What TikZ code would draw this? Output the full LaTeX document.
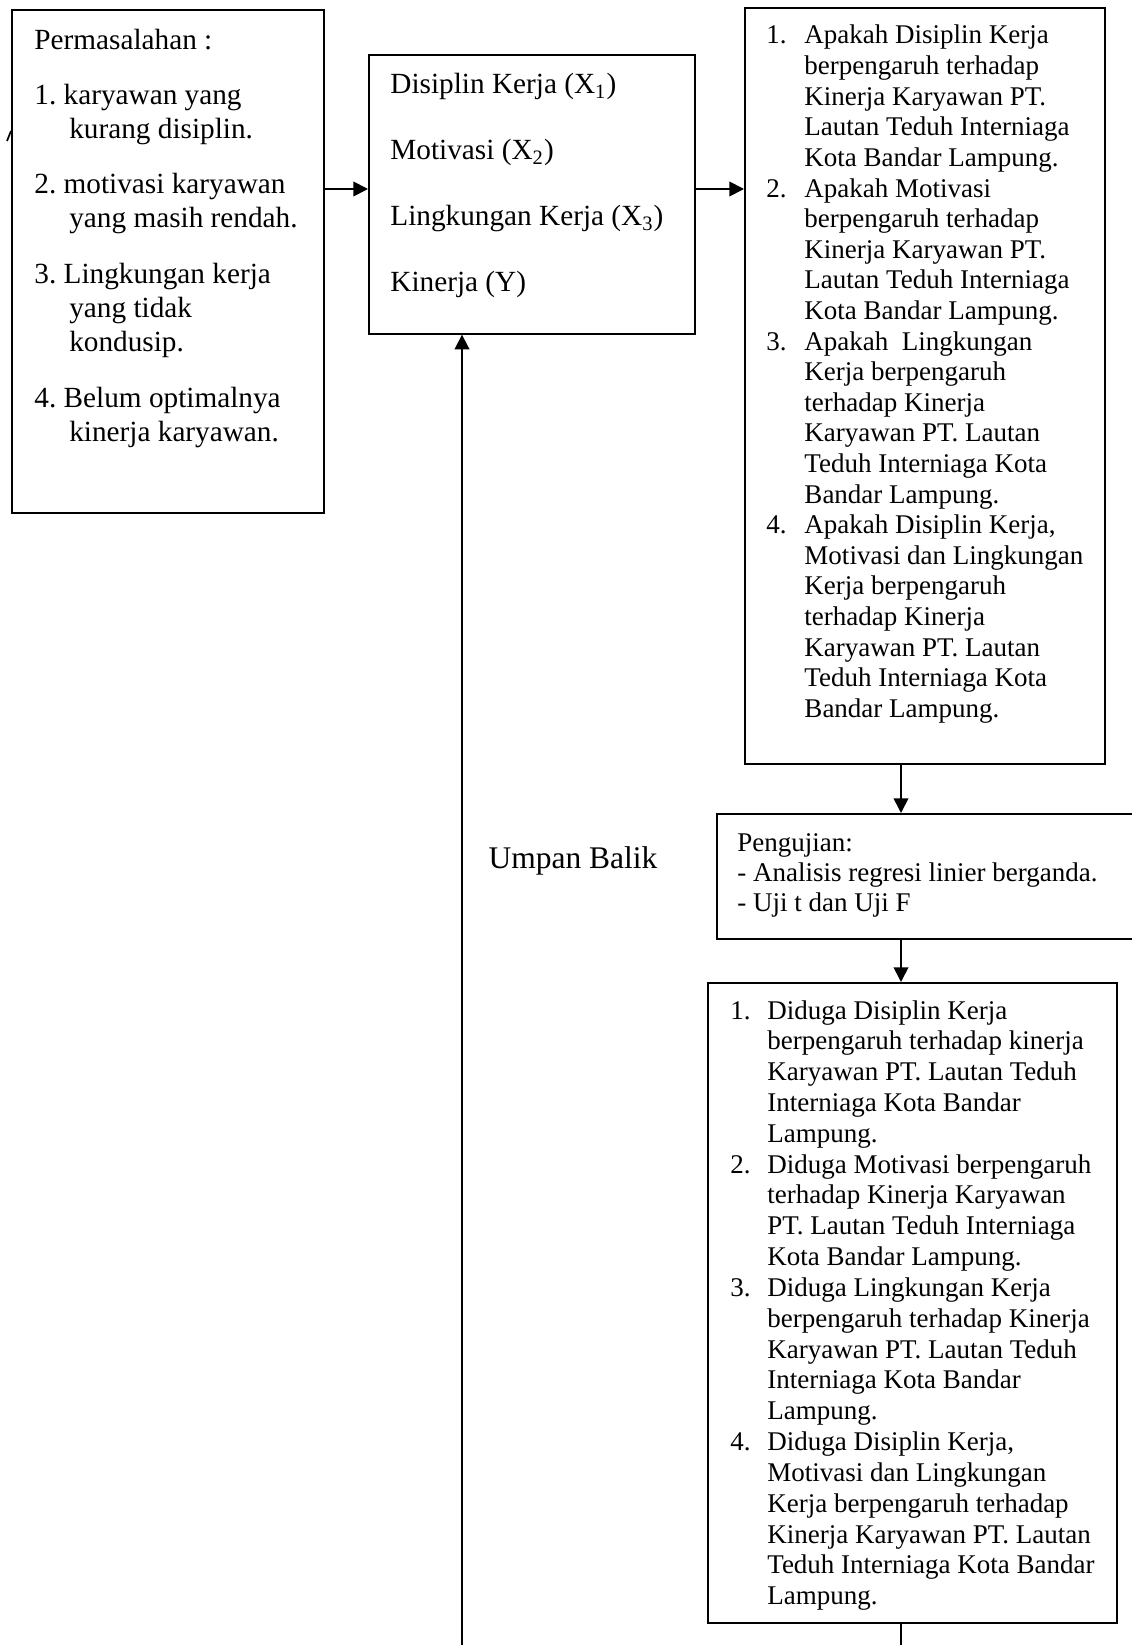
\documentclass[tikz,border=0pt]{standalone}
\usepackage{fontspec}
\setmainfont{Liberation Serif}
\usetikzlibrary{arrows.meta}
\frenchspacing
\newcommand{\pxl}{0.4444pt}
\tikzset{
  kotak/.style={draw, line width=0.75pt, rectangle, inner sep=0pt, anchor=north west},
  isi/.style={inner sep=0pt, anchor=base west},
  panah/.style={line width=0.8pt, -{Triangle[length=6.5pt,width=6.5pt]}},
}
\begin{document}
\begin{tikzpicture}[x=0.4444pt, y=-0.4444pt]
\useasboundingbox (0,0) rectangle (1131,1645);
% Boxes of the framework
\node[kotak, minimum width=312*\pxl, minimum height=503*\pxl] (masalah) at (11,9) {}; % problems
\node[kotak, minimum width=326*\pxl, minimum height=279*\pxl] (variabel) at (368,54) {}; % variables
\node[kotak, minimum width=360*\pxl, minimum height=756*\pxl] (rumusan) at (744,7) {}; % research questions
\node[kotak, minimum width=430*\pxl, minimum height=125*\pxl] (uji) at (716,813) {}; % testing
\node[kotak, minimum width=409*\pxl, minimum height=640*\pxl] (hipotesis) at (707,982) {}; % hypotheses
% Texts in the boxes
\node[isi, font={\fontsize{13}{15.2}\selectfont}] (teksmasalah) at (34,50) {\begin{tabular}[t]{@{}l@{}}
Permasalahan :\\[8.8pt]
1. karyawan yang\\
\hspace*{15.5pt}kurang disiplin.\\[9.4pt]
2. motivasi karyawan\\
\hspace*{15.5pt}yang masih rendah.\\[9.4pt]
3. Lingkungan kerja\\
\hspace*{15.5pt}yang tidak\\
\hspace*{15.5pt}kondusip.\\[9.6pt]
4. Belum optimalnya\\
\hspace*{15.5pt}kinerja karyawan.
\end{tabular}};
\node[isi, font={\fontsize{13}{29.3}\selectfont}] (teksvariabel) at (390,94) {\begin{tabular}[t]{@{}l@{}}
Disiplin Kerja (X\textsubscript{1})\\
Motivasi (X\textsubscript{2})\\
Lingkungan Kerja (X\textsubscript{3})\\
Kinerja (Y)
\end{tabular}};
\node[isi, font={\fontsize{12}{13.6}\selectfont}] (teksrumusan) at (766,44) {\begin{tabular}[t]{@{}p{16.9pt}@{}l@{}}
1. & Apakah Disiplin Kerja\\
 & berpengaruh terhadap\\
 & Kinerja Karyawan PT.\\
 & Lautan Teduh Interniaga\\
 & Kota Bandar Lampung.\\
2. & Apakah Motivasi\\
 & berpengaruh terhadap\\
 & Kinerja Karyawan PT.\\
 & Lautan Teduh Interniaga\\
 & Kota Bandar Lampung.\\
3. & Apakah\ \ Lingkungan\\
 & Kerja berpengaruh\\
 & terhadap Kinerja\\
 & Karyawan PT. Lautan\\
 & Teduh Interniaga Kota\\
 & Bandar Lampung.\\
4. & Apakah Disiplin Kerja,\\
 & Motivasi dan Lingkungan\\
 & Kerja berpengaruh\\
 & terhadap Kinerja\\
 & Karyawan PT. Lautan\\
 & Teduh Interniaga Kota\\
 & Bandar Lampung.
\end{tabular}};
\node[isi, font={\fontsize{12}{13.5}\selectfont}] (teksuji) at (737,851) {\begin{tabular}[t]{@{}l@{}}
Pengujian:\\
- Analisis regresi linier berganda.\\
- Uji t dan Uji F
\end{tabular}};
\node[isi, font={\fontsize{12}{13.7}\selectfont}] (tekshipotesis) at (730,1019) {\begin{tabular}[t]{@{}p{16.4pt}@{}l@{}}
1. & Diduga Disiplin Kerja\\
 & berpengaruh terhadap kinerja\\
 & Karyawan PT. Lautan Teduh\\
 & Interniaga Kota Bandar\\
 & Lampung.\\
2. & Diduga Motivasi berpengaruh\\
 & terhadap Kinerja Karyawan\\
 & PT. Lautan Teduh Interniaga\\
 & Kota Bandar Lampung.\\
3. & Diduga Lingkungan Kerja\\
 & berpengaruh terhadap Kinerja\\
 & Karyawan PT. Lautan Teduh\\
 & Interniaga Kota Bandar\\
 & Lampung.\\
4. & Diduga Disiplin Kerja,\\
 & Motivasi dan Lingkungan\\
 & Kerja berpengaruh terhadap\\
 & Kinerja Karyawan PT. Lautan\\
 & Teduh Interniaga Kota Bandar\\
 & Lampung.
\end{tabular}};
% Feedback label
\node[font={\fontsize{14}{16}\selectfont}] (umpan) at (573,861) {Umpan Balik};
% Connectors
\coordinate (lajur) at (0,189);
\coordinate (kolom) at (901,0);
\coordinate (bawah) at (0,1650);
\coordinate (balik) at (462,1650);
\draw[panah] (masalah.east |- lajur) -- (variabel.west |- lajur);
\draw[panah] (variabel.east |- lajur) -- (rumusan.west |- lajur);
\draw[panah] (rumusan.south -| kolom) -- (uji.north -| kolom);
\draw[panah] (uji.south -| kolom) -- (hipotesis.north -| kolom);
\draw[line width=0.8pt] (hipotesis.south -| kolom) -- (kolom |- bawah); % line leaving the page
\draw[panah] (balik) -- (balik |- variabel.south); % feedback line
\draw[line width=0.75pt] (7,141) -- (11,131); % stray stroke at the left edge
\end{tikzpicture}
\end{document}
